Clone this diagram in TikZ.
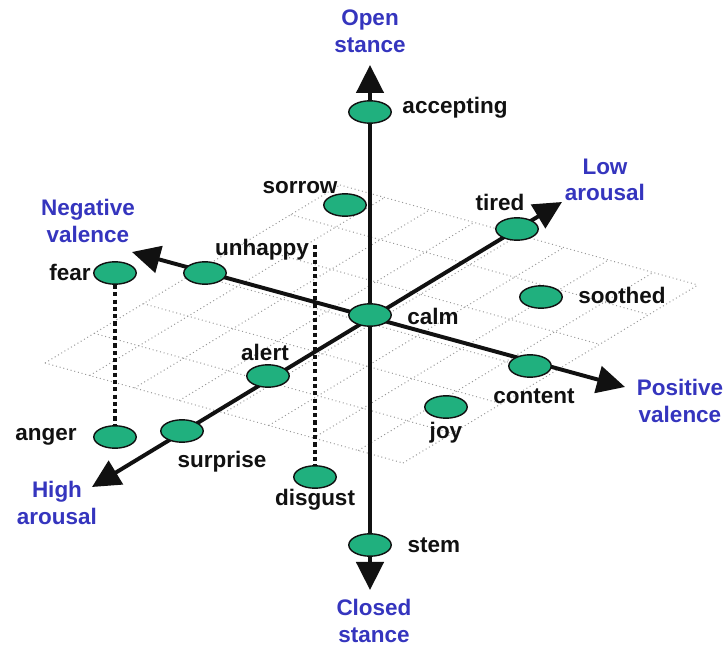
\documentclass[tikz,border=0pt]{standalone}
\usepackage{fontspec}
\setmainfont{Liberation Sans}
\usetikzlibrary{arrows.meta,shapes.geometric}
\definecolor{ink}{HTML}{111111}
\definecolor{emogreen}{HTML}{20B07E}
\definecolor{poleblue}{HTML}{3535BE}
\definecolor{gridgray}{HTML}{999999}

\begin{document}
\begin{tikzpicture}[
  >={Triangle[length=7mm,width=6.8mm]},
  font=\fontsize{16}{19}\selectfont\bfseries,
  emo/.style={ellipse, draw=ink, line width=1pt, fill=emogreen, minimum width=10.6mm, minimum height=5.6mm, inner sep=0pt},
  tag/.style={text=ink, inner sep=1pt},
  pole/.style={text=poleblue, align=center, inner sep=0pt},
  axis/.style={<->, ink, line width=2.8pt},
  drop/.style={ink, line width=3pt, dash pattern=on 3pt off 2.2pt},
  gridline/.style={gridgray, line width=.7pt, dotted},
]
\useasboundingbox (-9.25,-8.35) rectangle (8.95,7.875);

% ---------- dotted floor grid ----------
\begin{scope}[cm={1.11875,-0.3125,1.229,0.7417,(-8.125,-1.2)}]
  \foreach \i in {0,...,8}
    \draw[gridline] (\i,0) -- (\i,6);
  \foreach \j in {0,...,6}
    \draw[gridline] (0,\j) -- (8,\j);
\end{scope}

% ---------- three axes ----------
\coordinate (open)   at (0,6.25);
\coordinate (closed) at (0,-6.875);
\coordinate (negval) at (-5.95,1.575);
\coordinate (posval) at (6.375,-1.8);
\coordinate (hiar)   at (-6.95,-4.3);
\coordinate (loar)   at (4.8,2.825);

\draw[axis] (closed) -- (open);
\draw[axis] (negval) -- (posval);
\draw[axis] (hiar) -- (loar);

% ---------- emotions ----------
\node[emo] (accepting) at (0,5.075)      {};
\node[emo] (sorrow)    at (-0.625,2.75)  {};
\node[emo] (fear)      at (-6.375,1.05)  {};
\node[emo] (unhappy)   at (-4.125,1.05)  {};
\node[emo] (calm)      at (0,0)          {};
\node[emo] (tired)     at (3.675,2.15)   {};
\node[emo] (soothed)   at (4.275,0.45)   {};
\node[emo] (alert)     at (-2.55,-1.525) {};
\node[emo] (content)   at (4.0,-1.275)   {};
\node[emo] (joy)       at (1.9,-2.3)     {};
\node[emo] (surprise)  at (-4.7,-2.9)    {};
\node[emo] (anger)     at (-6.375,-3.05) {};
\node[emo] (disgust)   at (-1.375,-4.05) {};
\node[emo] (stem)      at (0,-5.75)      {};

\coordinate (disgusttop) at (-1.375,1.75);
\draw[drop] (fear) -- (anger);
\draw[drop] (disgusttop) -- (disgust);

\node[tag] at (2.125,5.175)  {accepting};
\node[tag] at (-1.75,3.175)  {sorrow};
\node[tag] at (-7.5,1.075)   {fear};
\node[tag] at (-2.7,1.625)   {unhappy};
\node[tag] at (1.575,-0.025) {calm};
\node[tag] at (3.25,2.825)   {tired};
\node[tag] at (6.3,0.5)      {soothed};
\node[tag] at (-2.625,-0.925){alert};
\node[tag] at (4.1,-2.025)   {content};
\node[tag] at (1.9,-2.95)    {joy};
\node[tag] at (-3.7,-3.675)  {surprise};
\node[tag] at (-8.1,-3.05)   {anger};
\node[tag] at (-1.375,-4.625){disgust};
\node[tag] at (1.6,-5.75)    {stem};

% ---------- axis poles ----------
\node[pole] at (0,7.1)         {Open\\stance};
\node[pole] at (0.1,-7.65)     {Closed\\stance};
\node[pole] at (-7.05,2.35)    {Negative\\valence};
\node[pole] at (7.75,-2.15)    {Positive\\valence};
\node[pole] at (5.875,3.375)   {Low\\arousal};
\node[pole] at (-7.825,-4.7)   {High\\arousal};

\end{tikzpicture}
\end{document}
